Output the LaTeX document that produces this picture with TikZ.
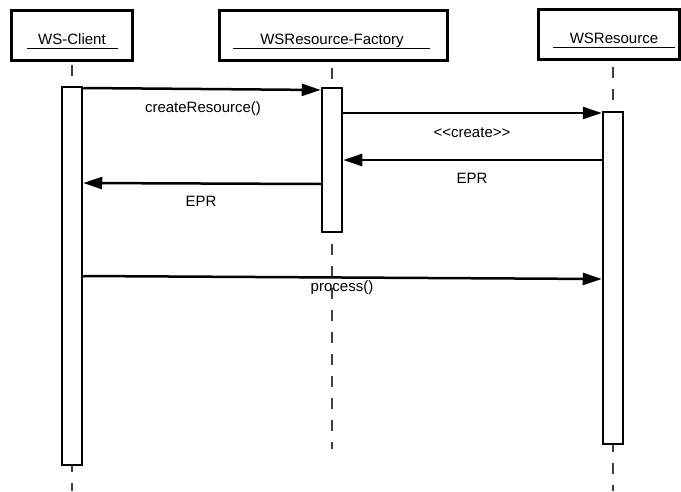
\documentclass[tikz,border=0pt]{standalone}
\usepackage{fontspec}
\setmainfont{Liberation Sans}
\usetikzlibrary{arrows.meta}
\begin{document}
\begin{tikzpicture}[x=1pt,y=-1pt,
  objbox/.style={draw, line width=3pt, inner sep=0pt, minimum height=50pt},
  objname/.style={anchor=base, inner sep=0pt, font=\fontsize{15pt}{18pt}\selectfont},
  uline/.style={line width=1pt},
  lifeline/.style={draw=black!75, line width=1.8pt, dash pattern=on 11pt off 11pt},
  act/.style={draw, fill=white, line width=2.5pt, minimum width=20pt, inner sep=0pt},
  msg/.style={-{Triangle[length=19pt,width=12pt]}, line width=2.5pt},
  msglabel/.style={anchor=base, inner sep=0pt, font=\fontsize{15pt}{18pt}\selectfont}
]
\useasboundingbox (0,0) rectangle (681,491);

% objects
\node[objbox, minimum width=121pt] (clientbox) at (72,35) {};
\node[objbox, minimum width=228pt] (factorybox) at (333,35.5) {};
\node[objbox, minimum width=141pt] (resbox) at (608.5,34.5) {};

\node[objname] (clientname) at (72,44) {WS-Client};
\node[objname] (factoryname) at (332,44) {WSResource-Factory};
\node[objname] (resname) at (614,43) {WSResource};

\draw[uline] (27,48) -- (118,48);
\draw[uline] (233,48) -- (430,48);
\draw[uline] (553,47) -- (675,47);

% lifeline ends
\coordinate (clientend) at (72,491);
\coordinate (factoryend) at (332,449);
\coordinate (resend) at (613,491);

% lifelines
\draw[lifeline, dash phase=19pt] (clientbox.south) -- (clientend);
\draw[lifeline, dash phase=16pt] (factorybox.south -| factoryend) -- (factoryend);
\draw[lifeline, dash phase=16pt] (resbox.south -| resend) -- (resend);

% activation bars
\node[act, minimum height=378pt] (clientact) at (72,276) {};
\node[act, minimum height=144pt] (factact) at (332,160) {};
\node[act, minimum height=332pt] (resact) at (613,278) {};

% messages
\draw[msg] (clientact.east |- 0,88) -- (factact.west |- 0,90);
\draw[msg] (factact.west |- 0,184) -- (clientact.east |- 0,183);
\draw[msg] (factact.east |- 0,113) -- (resact.west |- 0,113);
\draw[msg] (resact.west |- 0,160) -- (factact.east |- 0,160);
\draw[msg] (clientact.east |- 0,276) -- (resact.west |- 0,279);

\node[msglabel] (lcreate) at (203,112) {createResource()};
\node[msglabel] (lepr1) at (201,206) {EPR};
\node[msglabel] (lnew) at (472,137) {<\kern0pt<create>\kern0pt>};
\node[msglabel] (lepr2) at (472,183) {EPR};
\node[msglabel] (lproc) at (342,291) {process()};
\end{tikzpicture}
\end{document}
